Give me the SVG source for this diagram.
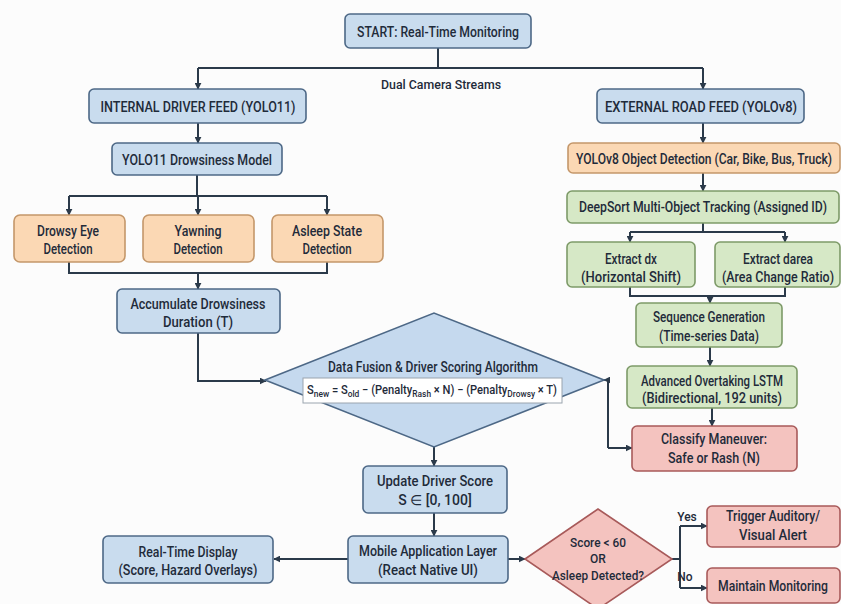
<svg xmlns="http://www.w3.org/2000/svg" width="841" height="604" viewBox="0 0 841 604">
<defs>
<marker id="ah" viewBox="0 0 10 10" refX="9" refY="5" markerWidth="7" markerHeight="7" orient="auto" markerUnits="userSpaceOnUse">
<path d="M0,0 L10,5 L0,10 z" fill="#2b3a4a"/>
</marker>
<style>
text{font-family:Roboto,"Liberation Sans",sans-serif;font-size:14px;font-weight:500;fill:#1f2b3a;text-anchor:middle}
.blue{fill:#c9dcee;stroke:#4d6886;stroke-width:1.6}
.orange{fill:#fbd8b4;stroke:#c4976a;stroke-width:1.6}
.green{fill:#d6e8c6;stroke:#7d9a68;stroke-width:1.6}
.red{fill:#f4c3bf;stroke:#a85a5a;stroke-width:1.6}
.dia{fill:#c5d9ee;stroke:#4d6886;stroke-width:1.6}
.c path{fill:none;stroke:#2b3a4a;stroke-width:2}
.a{marker-end:url(#ah)}
.sm{font-size:12px}
</style>
</defs>
<rect width="841" height="604" fill="#fcfcfc"/>
<g class="c" id="connectors">
<path d="M438,48 V68"/>
<path d="M198,68 H703"/>
<path class="a" d="M198,68 V89"/>
<path class="a" d="M703,68 V89"/>
<path class="a" d="M198,123 V143"/>
<path d="M197,175 V196 M69,196 H327"/>
<path class="a" d="M69,196 V215"/>
<path class="a" d="M198,196 V215"/>
<path class="a" d="M327,196 V215"/>
<path d="M69,262 V273 H327 V262"/>
<path class="a" d="M198,273 V289"/>
<path class="a" d="M198,333 V381 H266"/>
<path class="a" d="M434,447 V466"/>
<path class="a" d="M434,513 V536"/>
<path class="a" d="M348,559 H274"/>
<path class="a" d="M508,559 H525"/>
<path d="M672,559 H680 M680,526 V588"/>
<path class="a" d="M680,526 H707"/>
<path class="a" d="M680,588 H707"/>
<path class="a" d="M703,123 V143"/>
<path class="a" d="M703,173 V191"/>
<path d="M703,223 V232 M630,232 H785"/>
<path class="a" d="M630,232 V242"/>
<path class="a" d="M785,232 V242"/>
<path d="M630,287 V296 H785 V287"/>
<path class="a" d="M710,296 V303"/>
<path class="a" d="M710,347 V366"/>
<path class="a" d="M712,408 V426"/>
<path class="a" d="M608,448 H632"/>
<path class="a" d="M608,448 V380 H604"/>
</g>
<text class="sm" x="441" y="89" textLength="120" lengthAdjust="spacingAndGlyphs">Dual Camera Streams</text>
<g id="start"><rect class="blue" x="345" y="14" width="186" height="34" rx="5"/><text x="438" y="37" textLength="162" lengthAdjust="spacingAndGlyphs">START: Real-Time Monitoring</text></g>
<g id="internal"><rect class="blue" x="89" y="89" width="217" height="34" rx="5"/><text x="198" y="112" textLength="195" lengthAdjust="spacingAndGlyphs">INTERNAL DRIVER FEED (YOLO11)</text></g>
<g id="yolo11"><rect class="blue" x="112" y="143" width="170" height="32" rx="5"/><text x="197" y="165" textLength="150" lengthAdjust="spacingAndGlyphs">YOLO11 Drowsiness Model</text></g>
<g id="eye"><rect class="orange" x="14" y="215" width="111" height="47" rx="6"/><text x="68" y="236" textLength="62" lengthAdjust="spacingAndGlyphs">Drowsy Eye</text><text x="68" y="254" textLength="49" lengthAdjust="spacingAndGlyphs">Detection</text></g>
<g id="yawn"><rect class="orange" x="143" y="215" width="111" height="47" rx="6"/><text x="198" y="236" textLength="47" lengthAdjust="spacingAndGlyphs">Yawning</text><text x="198" y="254" textLength="49" lengthAdjust="spacingAndGlyphs">Detection</text></g>
<g id="asleep"><rect class="orange" x="272" y="215" width="111" height="47" rx="6"/><text x="327" y="236" textLength="70" lengthAdjust="spacingAndGlyphs">Asleep State</text><text x="327" y="254" textLength="49" lengthAdjust="spacingAndGlyphs">Detection</text></g>
<g id="accum"><rect class="blue" x="117" y="289" width="163" height="44" rx="5"/><text x="198" y="309" textLength="135" lengthAdjust="spacingAndGlyphs">Accumulate Drowsiness</text><text x="198" y="327" textLength="70" lengthAdjust="spacingAndGlyphs">Duration (T)</text></g>
<g id="fusion"><polygon class="dia" points="265,380 434,313 604,380 434,447"/>
<text x="433" y="372" textLength="210" lengthAdjust="spacingAndGlyphs">Data Fusion &amp; Driver Scoring Algorithm</text>
<rect x="303" y="378" width="259" height="25" fill="#ffffff" stroke="#9aa4ae" stroke-width="1"/>
<text class="sm" x="432" y="394" textLength="250" lengthAdjust="spacingAndGlyphs">S<tspan font-size="9" dy="3">new</tspan><tspan dy="-3"> = S</tspan><tspan font-size="9" dy="3">old</tspan><tspan dy="-3"> − (Penalty</tspan><tspan font-size="9" dy="3">Rash</tspan><tspan dy="-3"> × N) − (Penalty</tspan><tspan font-size="9" dy="3">Drowsy</tspan><tspan dy="-3"> × T)</tspan></text></g>
<g id="update"><rect class="blue" x="363" y="466" width="144" height="47" rx="5"/><text x="435" y="486" textLength="116" lengthAdjust="spacingAndGlyphs">Update Driver Score</text><text x="435" y="505">S ∈ [0, 100]</text></g>
<g id="mobile"><rect class="blue" x="348" y="536" width="160" height="47" rx="5"/><text x="428" y="556" textLength="138" lengthAdjust="spacingAndGlyphs">Mobile Application Layer</text><text x="428" y="575" textLength="100" lengthAdjust="spacingAndGlyphs">(React Native UI)</text></g>
<g id="display"><rect class="blue" x="103" y="536" width="170" height="47" rx="5"/><text x="188" y="557" textLength="99" lengthAdjust="spacingAndGlyphs">Real-Time Display</text><text x="188" y="575" textLength="139" lengthAdjust="spacingAndGlyphs">(Score, Hazard Overlays)</text></g>
<g id="decision"><polygon class="red" points="525,559 598,509 672,559 598,609"/><text class="sm" x="598" y="547" textLength="56" lengthAdjust="spacingAndGlyphs">Score &lt; 60</text><text class="sm" x="598" y="563">OR</text><text class="sm" x="598" y="580" textLength="92" lengthAdjust="spacingAndGlyphs">Asleep Detected?</text></g>
<text class="sm" x="687" y="521">Yes</text>
<text class="sm" x="685" y="581">No</text>
<g id="trigger"><rect class="red" x="707" y="506" width="133" height="41" rx="5"/><text x="773" y="521" textLength="94" lengthAdjust="spacingAndGlyphs">Trigger Auditory/</text><text x="773" y="540" textLength="68" lengthAdjust="spacingAndGlyphs">Visual Alert</text></g>
<g id="maintain"><rect class="red" x="707" y="568" width="133" height="35" rx="5"/><text x="773" y="591" textLength="110" lengthAdjust="spacingAndGlyphs">Maintain Monitoring</text></g>
<g id="external"><rect class="blue" x="597" y="89" width="207" height="34" rx="5"/><text x="701" y="112" textLength="192" lengthAdjust="spacingAndGlyphs">EXTERNAL ROAD FEED (YOLOv8)</text></g>
<g id="yolov8"><rect class="orange" x="568" y="143" width="272" height="30" rx="5"/><text x="704" y="164" textLength="256" lengthAdjust="spacingAndGlyphs">YOLOv8 Object Detection (Car, Bike, Bus, Truck)</text></g>
<g id="deepsort"><rect class="green" x="567" y="191" width="272" height="32" rx="5"/><text x="703" y="212" textLength="248" lengthAdjust="spacingAndGlyphs">DeepSort Multi-Object Tracking (Assigned ID)</text></g>
<g id="dx"><rect class="green" x="567" y="242" width="128" height="45" rx="5"/><text x="631" y="264" textLength="52" lengthAdjust="spacingAndGlyphs">Extract dx</text><text x="631" y="282" textLength="100" lengthAdjust="spacingAndGlyphs">(Horizontal Shift)</text></g>
<g id="darea"><rect class="green" x="715" y="242" width="125" height="45" rx="5"/><text x="778" y="264" textLength="70" lengthAdjust="spacingAndGlyphs">Extract darea</text><text x="778" y="282" textLength="112" lengthAdjust="spacingAndGlyphs">(Area Change Ratio)</text></g>
<g id="seq"><rect class="green" x="636" y="303" width="146" height="44" rx="5"/><text x="709" y="322" textLength="112" lengthAdjust="spacingAndGlyphs">Sequence Generation</text><text x="709" y="341" textLength="100" lengthAdjust="spacingAndGlyphs">(Time-series Data)</text></g>
<g id="lstm"><rect class="green" x="627" y="366" width="170" height="42" rx="5"/><text x="712" y="386" textLength="142" lengthAdjust="spacingAndGlyphs">Advanced Overtaking LSTM</text><text x="712" y="403" textLength="140" lengthAdjust="spacingAndGlyphs">(Bidirectional, 192 units)</text></g>
<g id="classify"><rect class="red" x="632" y="426" width="165" height="45" rx="5"/><text x="714" y="444" textLength="106" lengthAdjust="spacingAndGlyphs">Classify Maneuver:</text><text x="714" y="463" textLength="92" lengthAdjust="spacingAndGlyphs">Safe or Rash (N)</text></g>
</svg>
